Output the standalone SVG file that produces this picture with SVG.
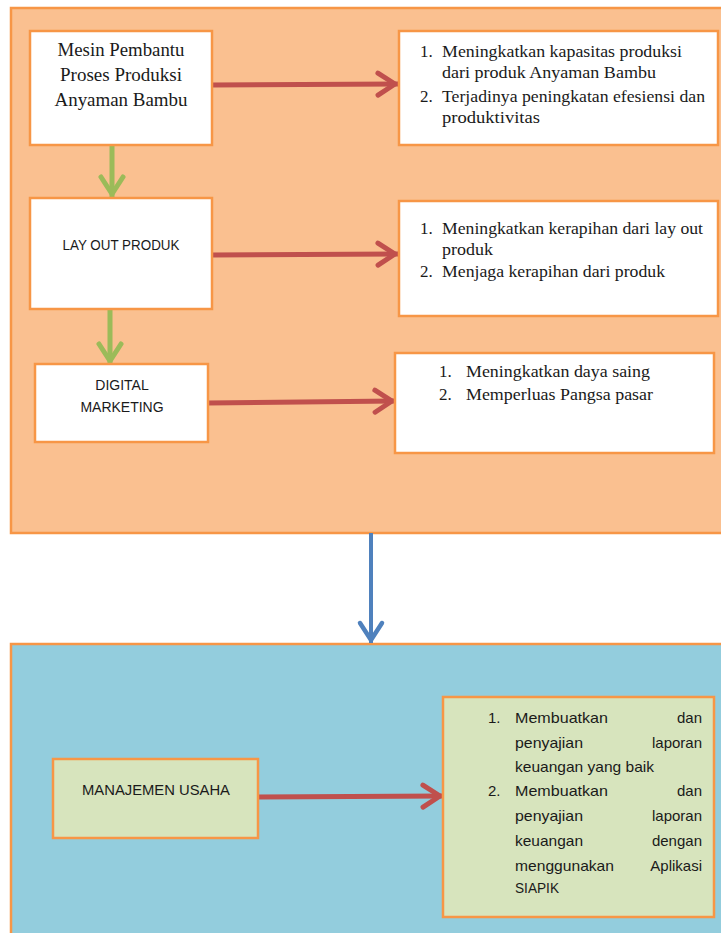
<svg xmlns="http://www.w3.org/2000/svg" width="721" height="933" viewBox="0 0 721 933">
<style>
.panel{stroke:#F79646;stroke-width:2.5}
.box{fill:#FFFFFF;stroke:#F79646;stroke-width:2.5}
.gbox{fill:#D7E4BD;stroke:#F79646;stroke-width:2.5}
.serif{font-family:"Liberation Serif","Times New Roman",serif;fill:#1a1a1a}
.sans{font-family:"Liberation Sans",Arial,sans-serif;fill:#1a1a1a}
.red{fill:none;stroke:#C0504D;stroke-width:5}
.green{fill:none;stroke:#9BBB59;stroke-width:5}
.blue{fill:none;stroke:#4F81BD;stroke-width:4}
</style>
<defs>
<marker id="hr" markerUnits="userSpaceOnUse" viewBox="-26 -16 30 32" markerWidth="30" markerHeight="32" refX="0" refY="0" orient="auto">
<path d="M-20,-11 L-3,0 L-20,11" fill="none" stroke="#C0504D" stroke-width="5" stroke-linecap="round" stroke-linejoin="round"/>
</marker>
<marker id="hg" markerUnits="userSpaceOnUse" viewBox="-26 -16 30 32" markerWidth="30" markerHeight="32" refX="0" refY="0" orient="auto">
<path d="M-20,-11 L-3,0 L-20,11" fill="none" stroke="#9BBB59" stroke-width="5" stroke-linecap="round" stroke-linejoin="round"/>
</marker>
<marker id="hb" markerUnits="userSpaceOnUse" viewBox="-26 -16 30 32" markerWidth="30" markerHeight="32" refX="0" refY="0" orient="auto">
<path d="M-20,-11 L-3,0 L-20,11" fill="none" stroke="#4F81BD" stroke-width="4.5" stroke-linecap="round" stroke-linejoin="round"/>
</marker>
</defs>
<rect width="721" height="933" fill="#FFFFFF"/>
<g id="panel-top"><rect class="panel" x="11" y="8" width="725" height="525" fill="#FAC090"/></g>
<g id="panel-bottom"><rect class="panel" x="11" y="644" width="725" height="300" fill="#93CDDD"/></g>

<g id="connectors">
<path class="green" d="M112,145 L112,197" marker-end="url(#hg)"/>
<path class="green" d="M110,309 L110,364" marker-end="url(#hg)"/>
<path class="red" d="M212,85 L398,84" marker-end="url(#hr)"/>
<path class="red" d="M212,255 L398,254" marker-end="url(#hr)"/>
<path class="red" d="M208,403 L395,401" marker-end="url(#hr)"/>
<path class="red" d="M258,797 L443,796" marker-end="url(#hr)"/>
<path class="blue" d="M371,533 L371,643" marker-end="url(#hb)"/>
</g>

<g id="mesin">
<rect class="box" x="30" y="31" width="182" height="114"/>
<text class="serif" font-size="18" text-anchor="middle" x="121" y="56" textLength="127" lengthAdjust="spacingAndGlyphs">Mesin Pembantu</text>
<text class="serif" font-size="18" text-anchor="middle" x="121" y="81" textLength="122" lengthAdjust="spacingAndGlyphs">Proses Produksi</text>
<text class="serif" font-size="18" text-anchor="middle" x="121" y="106" textLength="133" lengthAdjust="spacingAndGlyphs">Anyaman Bambu</text>
</g>

<g id="layout">
<rect class="box" x="30" y="198" width="182" height="111"/>
<text class="sans" font-size="14" text-anchor="middle" x="121" y="250" textLength="117" lengthAdjust="spacingAndGlyphs">LAY OUT PRODUK</text>
</g>

<g id="digital">
<rect class="box" x="35" y="364" width="173" height="78"/>
<text class="sans" font-size="14" text-anchor="middle" x="122" y="390">DIGITAL</text>
<text class="sans" font-size="14" text-anchor="middle" x="122" y="412">MARKETING</text>
</g>

<g id="hasil-mesin">
<rect class="box" x="399" y="31" width="319" height="114"/>
<text class="serif" font-size="17" x="420" y="57">1.</text>
<text class="serif" font-size="17" x="442" y="57" textLength="240" lengthAdjust="spacingAndGlyphs">Meningkatkan kapasitas produksi</text>
<text class="serif" font-size="17" x="442" y="78" textLength="214" lengthAdjust="spacingAndGlyphs">dari produk Anyaman Bambu</text>
<text class="serif" font-size="17" x="420" y="102">2.</text>
<text class="serif" font-size="17" x="442" y="102" textLength="263" lengthAdjust="spacingAndGlyphs">Terjadinya peningkatan efesiensi dan</text>
<text class="serif" font-size="17" x="442" y="123" textLength="98" lengthAdjust="spacingAndGlyphs">produktivitas</text>
</g>

<g id="hasil-layout">
<rect class="box" x="399" y="201" width="319" height="115"/>
<text class="serif" font-size="17" x="420" y="234">1.</text>
<text class="serif" font-size="17" x="442" y="234" textLength="261" lengthAdjust="spacingAndGlyphs">Meningkatkan kerapihan dari lay out</text>
<text class="serif" font-size="17" x="442" y="255" textLength="51" lengthAdjust="spacingAndGlyphs">produk</text>
<text class="serif" font-size="17" x="420" y="277">2.</text>
<text class="serif" font-size="17" x="442" y="277" textLength="223" lengthAdjust="spacingAndGlyphs">Menjaga kerapihan dari produk</text>
</g>

<g id="hasil-digital">
<rect class="box" x="395" y="353" width="319" height="100"/>
<text class="serif" font-size="17" x="439" y="377">1.</text>
<text class="serif" font-size="17" x="466" y="377" textLength="184" lengthAdjust="spacingAndGlyphs">Meningkatkan daya saing</text>
<text class="serif" font-size="17" x="439" y="400">2.</text>
<text class="serif" font-size="17" x="466" y="400" textLength="187" lengthAdjust="spacingAndGlyphs">Memperluas Pangsa pasar</text>
</g>

<g id="manajemen">
<rect class="gbox" x="53" y="759" width="205" height="79"/>
<text class="sans" font-size="15" text-anchor="middle" x="156" y="795" textLength="148" lengthAdjust="spacingAndGlyphs">MANAJEMEN  USAHA</text>
</g>

<g id="hasil-manajemen">
<rect class="gbox" x="443" y="697" width="271" height="220"/>
<g class="sans" font-size="15">
<text x="488" y="723">1.</text>
<text x="515" y="723" textLength="93" lengthAdjust="spacingAndGlyphs">Membuatkan</text>
<text x="702" y="723" text-anchor="end">dan</text>
<text x="515" y="748" textLength="68" lengthAdjust="spacingAndGlyphs">penyajian</text>
<text x="702" y="748" text-anchor="end">laporan</text>
<text x="515" y="772" textLength="139" lengthAdjust="spacingAndGlyphs">keuangan yang baik</text>
<text x="488" y="796">2.</text>
<text x="515" y="796" textLength="93" lengthAdjust="spacingAndGlyphs">Membuatkan</text>
<text x="702" y="796" text-anchor="end">dan</text>
<text x="515" y="821" textLength="68" lengthAdjust="spacingAndGlyphs">penyajian</text>
<text x="702" y="821" text-anchor="end">laporan</text>
<text x="515" y="846" textLength="68" lengthAdjust="spacingAndGlyphs">keuangan</text>
<text x="702" y="846" text-anchor="end">dengan</text>
<text x="515" y="871" textLength="99" lengthAdjust="spacingAndGlyphs">menggunakan</text>
<text x="702" y="871" text-anchor="end">Aplikasi</text>
<text x="515" y="893" textLength="44" lengthAdjust="spacingAndGlyphs">SIAPIK</text>
</g>
</g>
</svg>
